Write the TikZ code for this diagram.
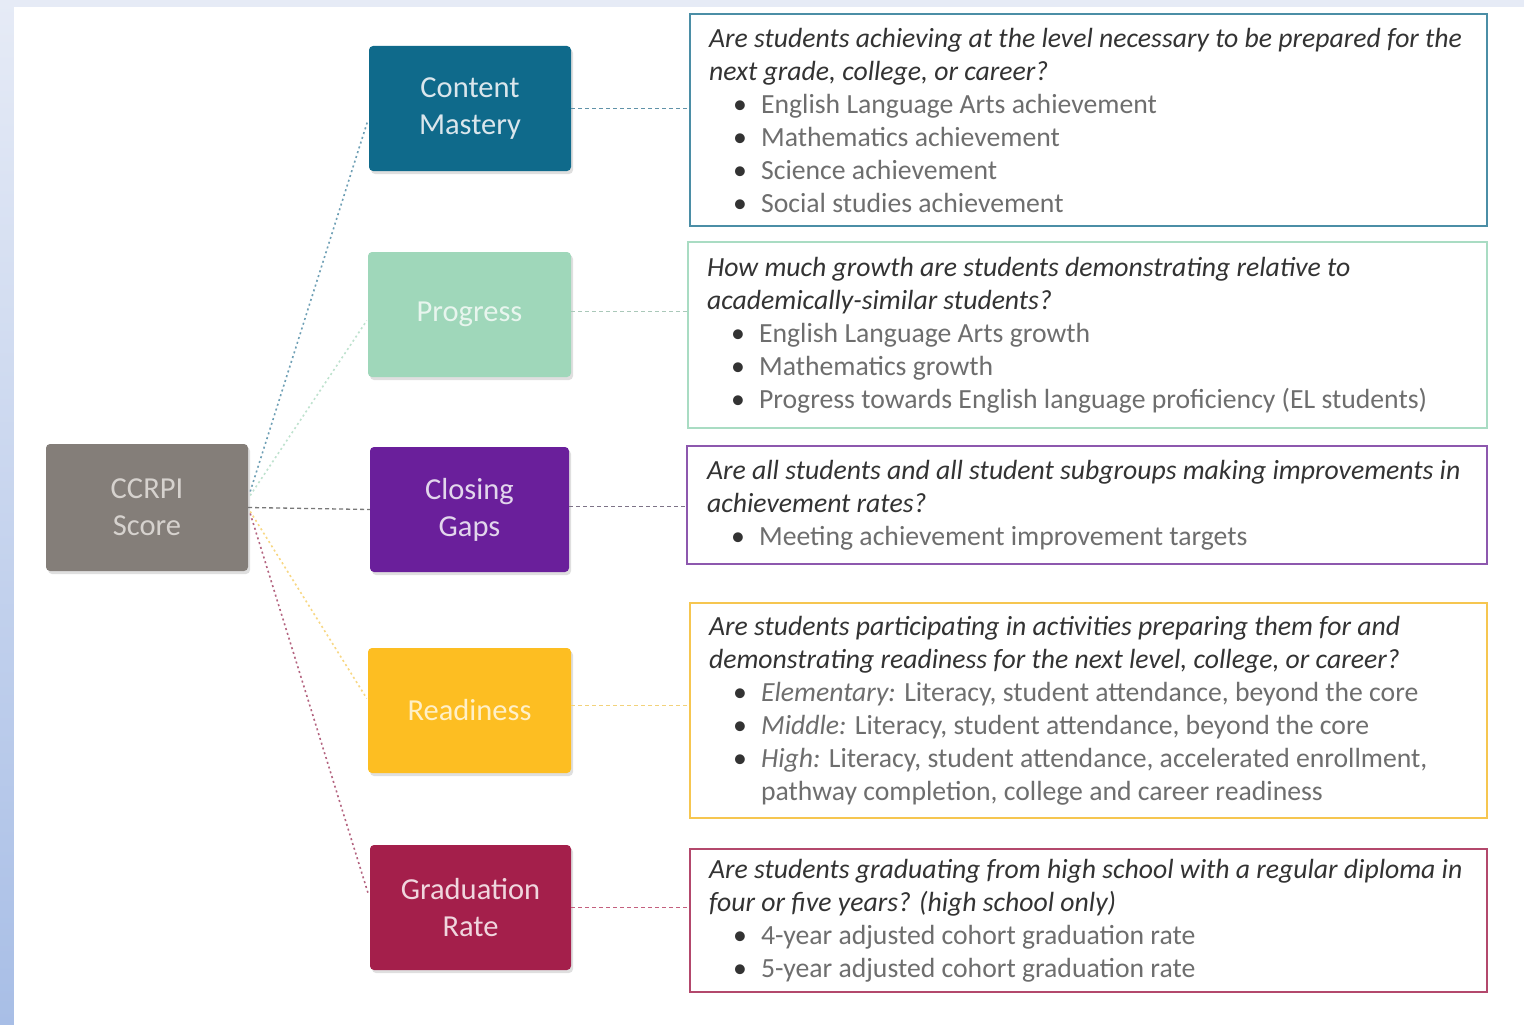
\documentclass[tikz,border=0pt]{standalone}
\usepackage{fontspec}
\setmainfont{Carlito}
\usetikzlibrary{shadows,calc}
\definecolor{cmC}{HTML}{0F6A8B}
\definecolor{prC}{HTML}{9FD7BA}
\definecolor{cgC}{HTML}{6A1F9B}
\definecolor{rdC}{HTML}{FDBE22}
\definecolor{grC}{HTML}{A41F4B}
\definecolor{ccC}{HTML}{847E79}
\definecolor{bA}{HTML}{4B8EA6}
\definecolor{bB}{HTML}{A9DCC3}
\definecolor{bC}{HTML}{8D58AE}
\definecolor{bD}{HTML}{F6C650}
\definecolor{bE}{HTML}{B3486C}
\definecolor{qcol}{HTML}{333333}
\definecolor{bcol}{HTML}{6E6E6E}
\newcommand\bitem{\hspace*{24pt}\makebox[28pt][l]{\color{qcol}\textbullet}}
\begin{document}
\begin{tikzpicture}[x=1pt,y=-1pt,
  catbox/.style={rectangle, rounded corners=4pt, minimum width=202pt, minimum height=125pt,
    align=center, inner sep=0pt, font=\fontsize{30.5}{37}\selectfont,
    drop shadow={shadow xshift=2pt, shadow yshift=-3pt, opacity=0.25}},
  qbox/.style={rectangle, draw=#1, line width=2.2pt, inner sep=0pt},
  qtext/.style={anchor=west, align=left, inner sep=0pt, text=bcol,
    font=\fontsize{27.7}{33}\selectfont},
  lnk/.style={line width=1.6pt, dash pattern=on 2pt off 3pt},
  rlnk/.style={line width=1.3pt, dash pattern=on 4pt off 3pt}]
\useasboundingbox (0,0) rectangle (1524,1025);
\shade[top color={rgb,255:red,230;green,235;blue,246}, bottom color={rgb,255:red,168;green,190;blue,230}] (0,0) rectangle (1524,1025);
\fill[white] (14,7) rectangle (1524,1025);

% category boxes
\node[catbox, fill=ccC, text={rgb,255:red,214;green,210;blue,206}, minimum height=127pt] (cc) at (147,507.5) {CCRPI\\Score};
\node[catbox, fill=cmC, text={rgb,255:red,218;green,230;blue,236}] (cm) at (470,108.5) {Content\\Mastery};
\node[catbox, fill=prC, text={rgb,255:red,232;green,245;blue,238}, minimum width=203pt] (pr) at (469.5,314.5) {Progress};
\node[catbox, fill=cgC, text={rgb,255:red,226;green,214;blue,236}, minimum width=199pt] (cg) at (469.5,509.5) {Closing\\Gaps};
\node[catbox, fill=rdC, text={rgb,255:red,255;green,240;blue,200}, minimum width=203pt] (rd) at (469.5,710.5) {Readiness};
\node[catbox, fill=grC, text={rgb,255:red,240;green,214;blue,222}, minimum width=201pt] (gr) at (470.5,907.5) {Graduation\\Rate};

% question boxes
\node[qbox=bA, minimum width=797pt, minimum height=212pt] (q1) at (1088.5,120) {};
\node[qbox=bB, minimum width=799pt, minimum height=186pt] (q2) at (1087.5,335) {};
\node[qbox=bC, minimum width=800pt, minimum height=118pt] (q3) at (1087,505) {};
\node[qbox=bD, minimum width=797pt, minimum height=215pt] (q4) at (1088.5,710.5) {};
\node[qbox=bE, minimum width=797pt, minimum height=143pt] (q5) at (1088.5,920.5) {};

\node[qtext] (t1) at ($(q1.west)+(20,0)$) {{\color{qcol}\itshape Are students achieving at the level necessary to be prepared for the}\\
{\color{qcol}\itshape next grade, college, or career?}\\
\bitem English Language Arts achievement\\
\bitem Mathematics achievement\\
\bitem Science achievement\\
\bitem Social studies achievement};

\node[qtext] (t2) at ($(q2.west)+(20,0)$) {{\color{qcol}\itshape How much growth are students demonstrating relative to}\\
{\color{qcol}\itshape academically-similar students?}\\
\bitem English Language Arts growth\\
\bitem Mathematics growth\\
\bitem Progress towards English language proficiency (EL students)};

\node[qtext] (t3) at ($(q3.west)+(21,0)$) {{\color{qcol}\itshape Are all students and all student subgroups making improvements in}\\
{\color{qcol}\itshape achievement rates?}\\
\bitem Meeting achievement improvement targets};

\node[qtext] (t4) at ($(q4.west)+(20,0)$) {{\color{qcol}\itshape Are students participating in activities preparing them for and}\\
{\color{qcol}\itshape demonstrating readiness for the next level, college, or career?}\\
\bitem \textit{Elementary:} Literacy, student attendance, beyond the core\\
\bitem \textit{Middle:} Literacy, student attendance, beyond the core\\
\bitem \textit{High:} Literacy, student attendance, accelerated enrollment,\\
\hspace*{52pt}pathway completion, college and career readiness};

\node[qtext] (t5) at ($(q5.west)+(20,0)$) {{\color{qcol}\itshape Are students graduating from high school with a regular diploma in}\\
{\color{qcol}\itshape four or five years? (high school only)}\\
\bitem 4-year adjusted cohort graduation rate\\
\bitem 5-year adjusted cohort graduation rate};

% links from CCRPI
\draw[lnk, draw={rgb,255:red,110;green,159;blue,181}] ($(cc.east)+(2,-16)$) -- ($(cm.west)+(-1,12)$);
\draw[lnk, draw={rgb,255:red,190;green,226;blue,206}] ($(cc.east)+(2,-12)$) -- ($(pr.west)+(-1,6)$);
\draw[rlnk, draw={rgb,255:red,120;green,120;blue,120}] (cc.east) -- (cg.west);
\draw[lnk, draw={rgb,255:red,248;green,215;blue,130}] ($(cc.east)+(2,4)$) -- ($(rd.west)+(-1,-12)$);
\draw[lnk, draw={rgb,255:red,180;green,100;blue,128}] ($(cc.east)+(2,6)$) -- ($(gr.west)+(-1,-12)$);

% links to question boxes
\draw[rlnk, draw={rgb,255:red,96;green,146;blue,168}] (cm.east) -- (q1.west |- cm.east);
\draw[rlnk, draw={rgb,255:red,170;green,200;blue,185}] ($(pr.east)+(0,-3)$) -- ($(q2.west |- pr.east)+(0,-3)$);
\draw[rlnk, draw={rgb,255:red,125;green,115;blue,135}] ($(cg.east)+(0,-3)$) -- ($(q3.west |- cg.east)+(0,-3)$);
\draw[rlnk, draw={rgb,255:red,242;green,210;blue,122}] ($(rd.east)+(0,-5)$) -- ($(q4.west |- rd.east)+(0,-5)$);
\draw[rlnk, draw={rgb,255:red,196;green,96;blue,126}] (gr.east) -- (q5.west |- gr.east);
\end{tikzpicture}
\end{document}
